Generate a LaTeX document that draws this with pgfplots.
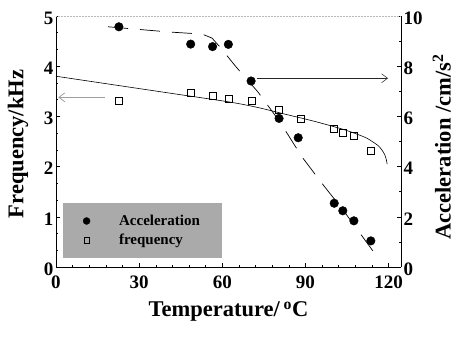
\documentclass[border=0pt]{standalone}
\usepackage{fontspec}
\setmainfont{Liberation Serif}
\usepackage{pgfplots}
\pgfplotsset{compat=1.18}
\usetikzlibrary{arrows.meta}

\begin{document}
\begin{tikzpicture}
\useasboundingbox (-56pt,-73pt) rectangle (402pt,267pt);
% ---------- left axis: frequency ----------
\begin{axis}[
  at={(0,0)}, anchor=south west,
  scale only axis, width=345pt, height=251pt,
  xmin=0, xmax=124.5, ymin=0, ymax=5,
  axis x line*=bottom, axis y line*=left,
  xtick={0,30,...,120}, minor x tick num=4,
  ytick={0,1,...,5}, minor y tick num=2,
  tick align=inside, major tick length=4pt, minor tick length=2pt,
  tick style={black, line width=0.5pt},
  axis line style={line width=0.9pt},
  /pgf/number format/assume math mode=true,
  ticklabel style={font=\bfseries\fontsize{19}{19}\selectfont},
  xticklabel style={yshift=-5pt},
  yticklabel style={xshift=1pt, yshift=-2pt},
  xlabel={Temperature/\,\textsuperscript{o}C},
  ylabel={Frequency/kHz},
  label style={font=\bfseries\fontsize{22.5}{22.5}\selectfont},
  xlabel style={at={(axis description cs:0.5,-0.198)}, anchor=base},
  ylabel style={at={(axis description cs:-0.11,0.49)}, anchor=center},
  clip=false,
]
% frequency data (open squares)
\addplot[only marks, mark=square, mark size=3.5pt, line width=0.5pt, black]
  coordinates {(22.7,3.31) (48.5,3.47) (56.5,3.42) (62.5,3.35) (70.5,3.31)
               (80.5,3.14) (88.4,2.95) (100.4,2.75) (103.6,2.68) (107.5,2.62) (113.6,2.32)};
% fit line (solid)
\addplot[black, line width=0.6pt, smooth, tension=0.5]
  coordinates {(0,3.80) (20.75,3.63) (41.5,3.46) (62.25,3.29) (72.6,3.18) (83,3.04)
               (93.4,2.90) (103.75,2.74) (108.9,2.64) (112.05,2.57) (114.1,2.50)
               (116.2,2.42) (117.5,2.34) (118.6,2.24) (119.2,2.14) (119.5,2.05)};
\draw[gray!75, line width=0.8pt, -{Straight Barb[length=6pt,width=9pt]}]
  (axis cs:17.6,3.38) -- (axis cs:0.8,3.38);
\end{axis}
% ---------- right axis: acceleration ----------
\begin{axis}[
  at={(0,0)}, anchor=south west,
  scale only axis, width=345pt, height=251pt,
  xmin=0, xmax=124.5, ymin=0, ymax=10,
  axis x line*=top, axis y line*=right,
  xtick=\empty,
  ytick={0,2,...,10}, minor y tick num=1,
  tick align=inside, major tick length=4pt, minor tick length=2pt,
  tick style={black, line width=0.5pt},
  x axis line style={gray!55, line width=0.5pt, densely dotted},
  y axis line style={line width=0.8pt},
  /pgf/number format/assume math mode=true,
  ticklabel style={font=\bfseries\fontsize{19}{19}\selectfont},
  yticklabel style={xshift=-1pt, yshift=-2pt},
  ylabel={Acceleration /cm/s\textsuperscript{2}},
  label style={font=\bfseries\fontsize{22.5}{22.5}\selectfont},
  ylabel style={at={(axis description cs:1.118,0.478)}, anchor=center},
  legend style={at={(rel axis cs:0.02,0.035)}, anchor=south west,
    fill=gray!67, draw=none, inner xsep=20pt, inner ysep=10pt, row sep=3pt,
    font=\bfseries\fontsize{15}{15}\selectfont,
    /tikz/every odd column/.append style={column sep=27pt}},
  legend cell align=left,
  clip=false,
]
% dashed guide line
\addplot[black, line width=0.7pt, dash pattern=on 20pt off 12pt, forget plot]
  coordinates {(18.8,9.57) (41.1,9.36) (52.7,9.28) (56.3,9.12) (59.2,8.76)
               (65.0,7.97) (72.9,6.97) (80.8,5.78) (88.8,4.38) (96.7,3.23)
               (103.6,2.27) (110.4,1.24) (116.2,0.36)};
% acceleration data (filled circles)
\addplot[only marks, mark=*, mark size=4.3pt, black, forget plot]
  coordinates {(22.7,9.57) (48.6,8.88) (56.5,8.78) (62.2,8.87) (70.4,7.41)
               (80.5,5.92) (87.4,5.15) (100.4,2.54) (103.5,2.24) (107.5,1.84) (113.6,1.04)};
\addlegendimage{only marks, mark=*, mark size=3.5pt, black}
\addlegendentry{Acceleration}
\addlegendimage{only marks, mark=square, mark size=2.8pt, line width=0.5pt, black}
\addlegendentry{frequency}
\draw[gray!30!black, line width=0.5pt, -{Straight Barb[length=6pt,width=9pt]}]
  (axis cs:72.5,7.52) -- (axis cs:119.8,7.52);
\end{axis}
\end{tikzpicture}
\end{document}
